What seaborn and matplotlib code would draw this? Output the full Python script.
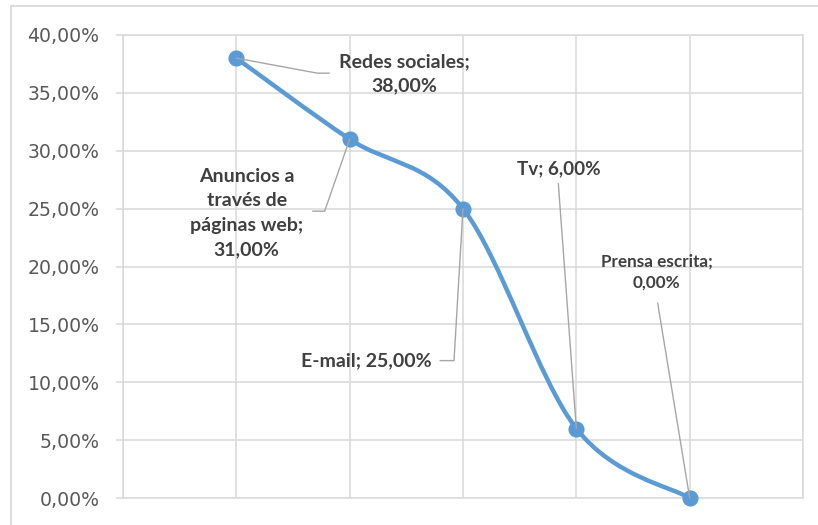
import matplotlib
matplotlib.use("Agg")
import matplotlib.pyplot as plt
from matplotlib.path import Path
from matplotlib.patches import PathPatch, Rectangle
import numpy as np
import pandas as pd
import seaborn as sns

# Data
canales = ["Redes sociales", "Anuncios a\ntravés de\npáginas web", "E-mail", "Tv", "Prensa escrita"]
porcentajes = [38.0, 31.0, 25.0, 6.0, 0.0]
y_ticks = [0, 5, 10, 15, 20, 25, 30, 35, 40]

# Label text and placement (offsets in pixels from each point)
etiquetas = ["Redes sociales;\n38,00%", "Anuncios a\ntravés de\npáginas web;\n31,00%",
             "E-mail; 25,00%", "Tv; 6,00%", "Prensa escrita;\n0,00%"]
texto_offset = [(168, -16), (-103, -74), (-97, -152), (-18, 260), (-33, 226)]
guia_offset = [[(0, 0), (81, -15), (93, -15)],
               [(0, 0), (-25, -72), (-37, -72)],
               [(0, 0), (-9, -152), (-23, -152)],
               [(0, 0), (-18, 245)],
               [(0, 0), (-32, 195)]]
texto_size = [14, 14, 14, 13.6, 12.3]
texto_interlineado = [1.5, 1.55, 1.5, 1.5, 1.38]

df = pd.DataFrame({"pos": np.arange(1, len(canales) + 1), "valor": porcentajes, "canal": canales})

sns.set_style("white")
plt.rcParams["font.family"] = ["DejaVu Sans"]

W, H = 818, 525
fig = plt.figure(figsize=(W / 100, H / 100), dpi=100)
ax = fig.add_axes([123 / W, (H - 498) / H, (803 - 123) / W, (498 - 35) / H])

# Outer chart frame
fig.patches.append(Rectangle((11 / W, -0.1), 1.2, (H - 6) / H + 0.1, transform=fig.transFigure,
                             fill=False, edgecolor="#d9d9d9", linewidth=1.3, zorder=0))

grid_c = "#d9d9d9"
ax.set_xlim(0, 6)
ax.set_ylim(0, 40)
ax.set_xticks(range(0, 7))
ax.set_xticklabels([])
ax.set_yticks(y_ticks)
ax.set_yticklabels([f"{v:.2f}%".replace(".", ",") for v in y_ticks])
ax.grid(True, color=grid_c, linewidth=1.1)
ax.set_axisbelow(True)
for s in ax.spines.values():
    s.set_color(grid_c)
    s.set_linewidth(1.1)
ax.tick_params(axis="x", length=0)
ax.tick_params(axis="y", length=5, width=1.1, color=grid_c, pad=12,
               labelsize=13.6, labelcolor="#595959", left=True)

# Smoothed line: cubic Bezier segments (Catmull-Rom control points)
xs = df["pos"].to_numpy(float)
ys = df["valor"].to_numpy(float)
pts = np.column_stack([xs, ys])
verts = [pts[0]]
codes = [Path.MOVETO]
n = len(pts)
for i in range(n - 1):
    p0 = pts[i - 1] if i > 0 else pts[i]
    p1, p2 = pts[i], pts[i + 1]
    p3 = pts[i + 2] if i + 2 < n else pts[i + 1]
    c1 = p1 + (p2 - p0) / 6
    c2 = p2 - (p3 - p1) / 6
    verts += [c1, c2, p2]
    codes += [Path.CURVE4] * 3
ax.add_patch(PathPatch(Path(verts, codes), facecolor="none", edgecolor="#5b9bd5",
                       linewidth=3.2, capstyle="round", zorder=3))

sns.scatterplot(data=df, x="pos", y="valor", ax=ax, color="#5b9bd5", s=135,
                edgecolor="#5b9bd5", linewidth=0, zorder=4, clip_on=False, legend=False)
ax.set_xlabel("")
ax.set_ylabel("")

# Data labels with leader lines
fig.canvas.draw()
for i, (x, y) in enumerate(pts):
    px, py = ax.transData.transform((x, y))
    gx = [px + dx for dx, dy in guia_offset[i]]
    gy = [py + dy for dx, dy in guia_offset[i]]
    ax.plot(gx, gy, transform=None, color="#a6a6a6", linewidth=1, zorder=5, clip_on=False)
    ax.annotate(etiquetas[i], xy=(x, y), xytext=texto_offset[i], textcoords="offset pixels",
                ha="center", va="center", fontsize=texto_size[i], fontweight="bold",
                color="#404040", family=["Lato", "DejaVu Sans"],
                linespacing=texto_interlineado[i], annotation_clip=False, zorder=6)

fig.savefig("out.png", dpi=100)
